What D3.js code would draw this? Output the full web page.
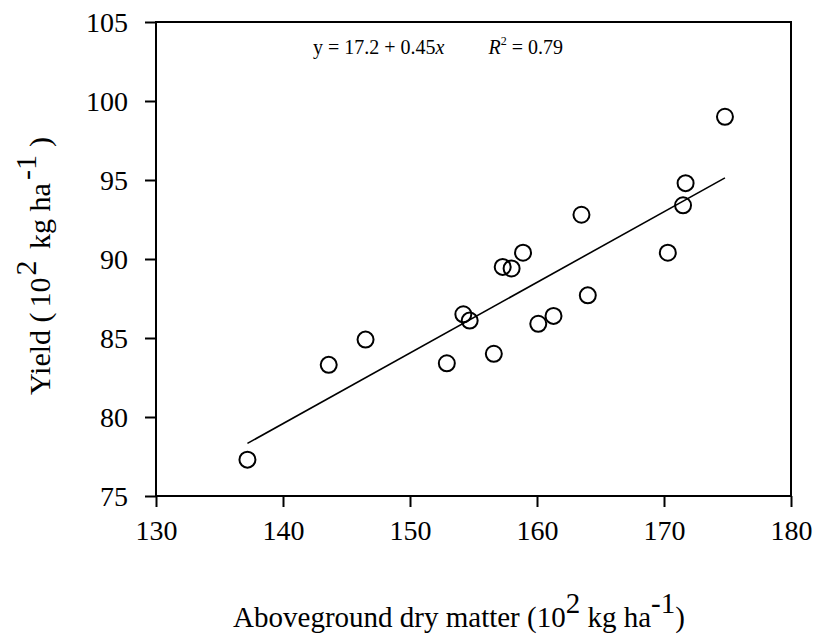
<!DOCTYPE html>
<html>
<head>
<meta charset="utf-8">
<script src="https://cdn.jsdelivr.net/npm/d3@7"></script>
<style>
  body { margin: 0; background: #fff; }
  svg { display: block; font-family: "Liberation Serif", "Times New Roman", serif; }
</style>
</head>
<body>
<div id="chart"></div>
<script>
// dry matter (10^2 kg/ha) vs yield (10^2 kg/ha)
const dryMatter = [137.2, 143.6, 146.5, 152.9, 154.2, 154.7, 156.6, 157.3, 158.0, 158.9, 160.1, 161.3, 163.5, 164.0, 170.3, 171.5, 171.7, 174.8];
const yieldVals = [77.3, 83.3, 84.9, 83.4, 86.5, 86.1, 84.0, 89.5, 89.4, 90.4, 85.9, 86.4, 92.8, 87.7, 90.4, 93.4, 94.8, 99.0];
const xTicks = [130, 140, 150, 160, 170, 180];
const yTicks = [75, 80, 85, 90, 95, 100, 105];
const fitLine = { intercept: 17.0, slope: 0.447 }; // as drawn (label rounds to 17.2 + 0.45x)

const W = 817, H = 637;
const margin = { top: 22, right: 26, bottom: 141, left: 156 };
const width = W - margin.left - margin.right;
const height = H - margin.top - margin.bottom;

const svg = d3.select('#chart').append('svg')
  .attr('width', W)
  .attr('height', H);

const g = svg.append('g').attr('transform', `translate(${margin.left},${margin.top})`);

const x = d3.scaleLinear().domain([130, 180]).range([0, width]);
const y = d3.scaleLinear().domain([75, 105]).range([height, 0]);

// frame
g.append('rect')
  .attr('width', width)
  .attr('height', height)
  .attr('fill', 'none')
  .attr('stroke', '#000')
  .attr('stroke-width', 2);

const xAxis = g.append('g')
  .attr('transform', `translate(0,${height})`)
  .call(d3.axisBottom(x).tickValues(xTicks).tickSize(11).tickSizeOuter(0));
xAxis.selectAll('text').attr('y', 44).attr('dy', 0);

const yAxis = g.append('g')
  .call(d3.axisLeft(y).tickValues(yTicks).tickSize(11).tickSizeOuter(0));
yAxis.selectAll('text').attr('x', -28).attr('dy', '0.34em');

[xAxis, yAxis].forEach(a => {
  a.select('.domain').remove();
  a.selectAll('line').attr('stroke', '#000').attr('stroke-width', 2);
  a.selectAll('text').attr('fill', '#000').style('font-size', '28px').style('font-family', '"Liberation Serif", serif');
});

// regression line across the data range
const xr = d3.extent(dryMatter);
g.append('line')
  .attr('x1', x(xr[0])).attr('y1', y(fitLine.intercept + fitLine.slope * xr[0]))
  .attr('x2', x(xr[1])).attr('y2', y(fitLine.intercept + fitLine.slope * xr[1]))
  .attr('stroke', '#000')
  .attr('stroke-width', 1.6);

g.selectAll('.pt')
  .data(dryMatter.map((d, i) => [d, yieldVals[i]]))
  .enter()
  .append('circle')
  .attr('class', 'pt')
  .attr('cx', d => x(d[0]))
  .attr('cy', d => y(d[1]))
  .attr('r', 8)
  .attr('fill', 'none')
  .attr('stroke', '#000')
  .attr('stroke-width', 2);

// equation
const eq = svg.append('text')
  .attr('x', 313)
  .attr('y', 54)
  .style('font-size', '20px')
  .attr('xml:space', 'preserve');
eq.append('tspan').text('y = 17.2 + 0.45');
eq.append('tspan').style('font-style', 'italic').text('x');
eq.append('tspan').attr('dx', 44).style('font-style', 'italic').text('R');
eq.append('tspan').attr('dy', -9).style('font-size', '12px').text('2');
eq.append('tspan').attr('dy', 9).text(' = 0.79');

// x title
const xt = svg.append('text')
  .attr('x', 459)
  .attr('y', 627)
  .attr('text-anchor', 'middle')
  .style('font-size', '29px');
xt.append('tspan').text('Aboveground dry matter (10');
xt.append('tspan').attr('dy', -14).text('2');
xt.append('tspan').attr('dy', 14).text(' kg ha');
xt.append('tspan').attr('dy', -14).text('-1');
xt.append('tspan').attr('dy', 14).text(')');

// y title
const yt = svg.append('text')
  .attr('transform', `translate(50,${margin.top + height / 2 + 7}) rotate(-90)`)
  .attr('text-anchor', 'middle')
  .style('font-size', '30px');
yt.append('tspan').text('Yield (');
yt.append('tspan').attr('dx', 5).text('10');
yt.append('tspan').attr('dx', 2).attr('dy', -14).text('2');
yt.append('tspan').attr('dx', 4).attr('dy', 14).text(' kg ha');
yt.append('tspan').attr('dx', 3).attr('dy', -14).text('-1');
yt.append('tspan').attr('dx', 8).attr('dy', 14).text(')');
</script>
</body>
</html>
